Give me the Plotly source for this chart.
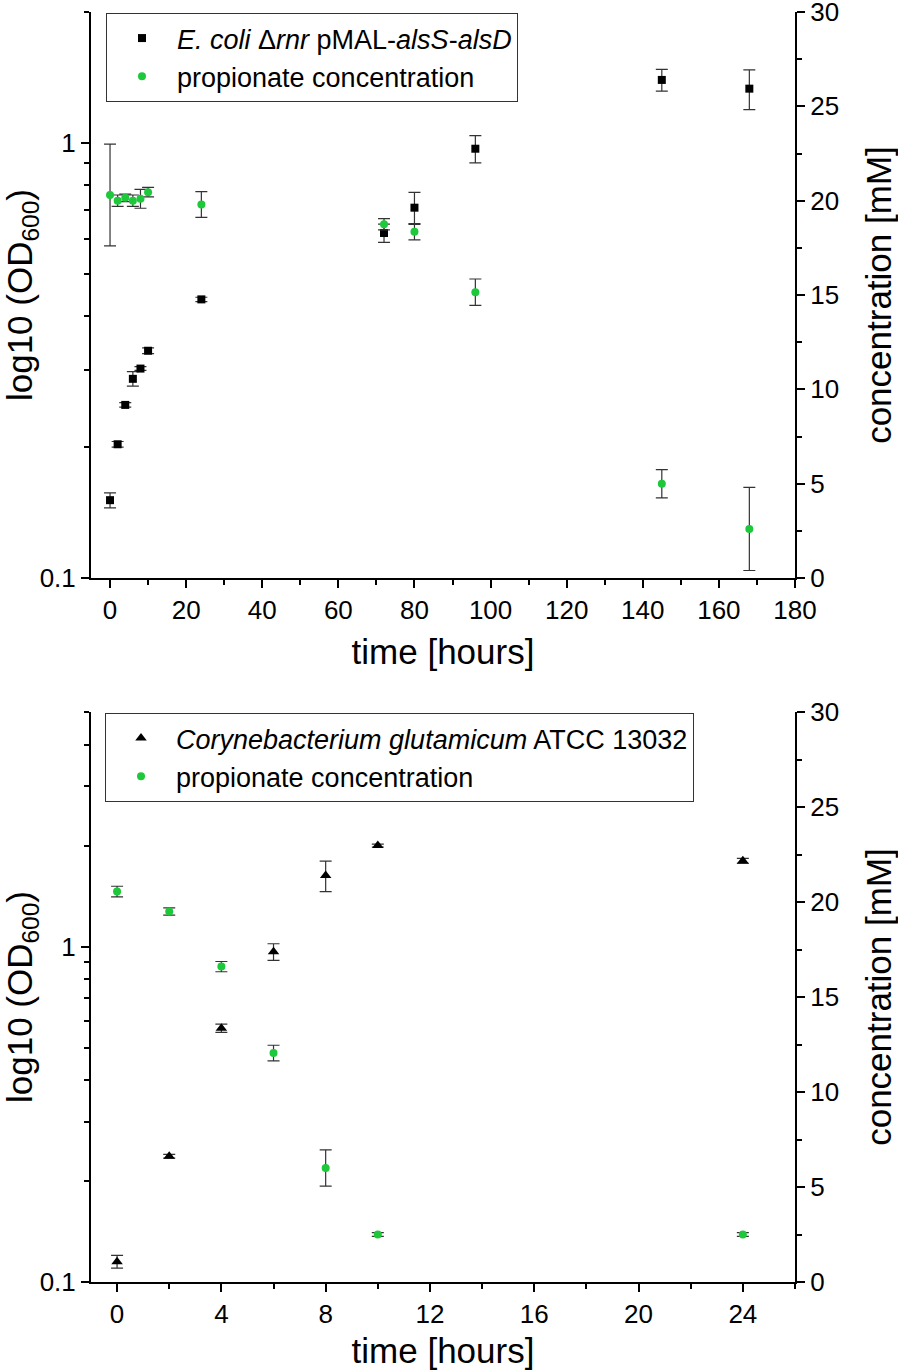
import math
import plotly.graph_objects as go

# ---------------- data ----------------
# Panel A: E. coli
t_ecoli = [0, 2, 4, 6, 8, 10, 24, 72, 80, 96, 145, 168]
od_ecoli = [0.151, 0.203, 0.250, 0.287, 0.303, 0.333, 0.437, 0.621, 0.710, 0.970, 1.396, 1.333]
od_ecoli_err = [0.006, 0.003, 0.003, 0.011, 0.003, 0.005, 0.005, 0.03, 0.06, 0.07, 0.08, 0.14]

t_prop_a = [0, 2, 4, 6, 8, 10, 24, 72, 80, 96, 145, 168]
conc_a = [20.3, 20.0, 20.15, 20.0, 20.1, 20.45, 19.8, 18.75, 18.35, 15.15, 5.0, 2.6]
conc_a_err = [2.7, 0.3, 0.2, 0.3, 0.5, 0.25, 0.68, 0.3, 0.43, 0.7, 0.75, 2.2]

# Panel B: C. glutamicum
t_cg = [0, 2, 4, 6, 8, 10, 24]
od_cg = [0.115, 0.237, 0.571, 0.964, 1.628, 2.0, 1.80]
od_cg_err = [0.005, 0.003, 0.016, 0.055, 0.17, 0.02, 0.03]

t_prop_b = [0, 2, 4, 6, 8, 10, 24]
conc_b = [20.55, 19.5, 16.6, 12.05, 6.0, 2.5, 2.5]
conc_b_err = [0.28, 0.19, 0.27, 0.41, 0.95, 0.1, 0.1]

name_ecoli = "<i>E. coli</i> Δ<i>rnr</i> pMAL-<i>alsS</i>-<i>alsD</i>"
name_cg = "<i>Corynebacterium glutamicum</i> ATCC 13032"
name_prop = "propionate concentration"

x_title = "time [hours]"
y_left_title = "log10 (OD<sub>600</sub>)"
y_right_title = "concentration [mM]"

# ---------------- style ----------------
FONT = "Liberation Sans, Arial, sans-serif"
GREEN = "#1DC83A"
ERRC = "#333333"

def err(arr):
    return dict(type="data", array=arr, visible=True, color=ERRC, thickness=1.2, width=6)

fig = go.Figure()

fig.add_trace(go.Scatter(x=t_ecoli, y=od_ecoli, mode="markers", name=name_ecoli,
                         marker=dict(symbol="square", size=8, color="black"),
                         error_y=err(od_ecoli_err), xaxis="x", yaxis="y", legend="legend"))
fig.add_trace(go.Scatter(x=t_prop_a, y=conc_a, mode="markers", name=name_prop,
                         marker=dict(symbol="circle", size=8, color=GREEN),
                         error_y=err(conc_a_err), xaxis="x", yaxis="y2", legend="legend"))
fig.add_trace(go.Scatter(x=t_cg, y=od_cg, mode="markers", name=name_cg,
                         marker=dict(symbol="triangle-up", size=10, color="black"),
                         error_y=err(od_cg_err), xaxis="x2", yaxis="y3", legend="legend2"))
fig.add_trace(go.Scatter(x=t_prop_b, y=conc_b, mode="markers", name=name_prop,
                         marker=dict(symbol="circle", size=8, color=GREEN),
                         error_y=err(conc_b_err), xaxis="x2", yaxis="y4", legend="legend2"))

TICKF = dict(family=FONT, size=26, color="black")
TITLEF = dict(family=FONT, size=35, color="black")
LEGF = dict(family=FONT, size=27, color="black")

def base_axis(**kw):
    d = dict(showline=True, linecolor="black", linewidth=2, ticks="outside",
             ticklen=8, tickwidth=2, tickcolor="black", showgrid=False, zeroline=False,
             tickfont=TICKF, automargin=False, ticklabeloverflow="allow")
    d.update(kw)
    return d

minor_small = dict(ticks="outside", ticklen=5, tickwidth=2, tickcolor="black", showgrid=False)

top_dom = [0.5543, 1.0]
bot_dom = [0.0, 0.4488]

log_minor_top = [0.2, 0.3, 0.4, 0.5, 0.6, 0.7, 0.8, 0.9, 2]
log_minor_bot = [0.2, 0.3, 0.4, 0.5, 0.6, 0.7, 0.8, 0.9, 2, 3, 4, 5]

fig.update_layout(
    width=898, height=1370,
    margin=dict(l=91, r=103, t=12, b=88, autoexpand=False),
    paper_bgcolor="white", plot_bgcolor="white",
    font=dict(family=FONT, color="black"),
    xaxis=base_axis(domain=[0, 1], anchor="y", range=[-5, 180], tick0=0, dtick=20,
                    minor=dict(dtick=10, tick0=0, **minor_small),
                    title=dict(text=x_title, font=TITLEF, standoff=15)),
    yaxis=base_axis(domain=top_dom, anchor="x", type="log", range=[-1, math.log10(2)],
                    tickmode="array", tickvals=[0.1, 1], ticktext=["0.1", "1"],
                    minor=dict(tickmode="array", tickvals=log_minor_top, **minor_small),
                    title=dict(text=y_left_title, font=TITLEF, standoff=15)),
    yaxis2=base_axis(overlaying="y", anchor="x", side="right", range=[0, 30], tick0=0, dtick=5,
                     minor=dict(dtick=2.5, tick0=0, **minor_small),
                     title=dict(text=y_right_title, font=TITLEF, standoff=29)),
    xaxis2=base_axis(domain=[0, 1], anchor="y3", range=[-1, 26], tick0=0, dtick=4,
                     minor=dict(dtick=2, tick0=0, **minor_small),
                     title=dict(text=x_title, font=TITLEF, standoff=15)),
    yaxis3=base_axis(domain=bot_dom, anchor="x2", type="log", range=[-1, math.log10(5)],
                     tickmode="array", tickvals=[0.1, 1], ticktext=["0.1", "1"],
                     minor=dict(tickmode="array", tickvals=log_minor_bot, **minor_small),
                     title=dict(text=y_left_title, font=TITLEF, standoff=15)),
    yaxis4=base_axis(overlaying="y3", anchor="x2", side="right", range=[0, 30], tick0=0, dtick=5,
                     minor=dict(dtick=2.5, tick0=0, **minor_small),
                     title=dict(text=y_right_title, font=TITLEF, standoff=29)),
    legend=dict(x=0.0213, y=0.9992, xanchor="left", yanchor="top",
                bordercolor="#333333", borderwidth=1, bgcolor="white",
                font=LEGF, itemwidth=60, tracegroupgap=0),
    legend2=dict(x=0.0199, y=0.448, xanchor="left", yanchor="top",
                 bordercolor="#333333", borderwidth=1, bgcolor="white",
                 font=LEGF, itemwidth=60, tracegroupgap=0),
    showlegend=True,
)

fig.write_html("out.html", config={"displayModeBar": False},
               post_script="document.body.style.margin='0px';")
